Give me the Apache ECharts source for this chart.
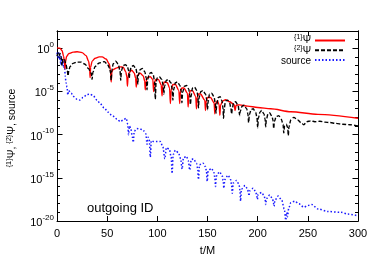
<!DOCTYPE html>
<html><head><meta charset="utf-8">
<script src="https://cdn.jsdelivr.net/npm/echarts@6/dist/echarts.min.js"></script>
<style>html,body{margin:0;padding:0;background:#fff}#c{width:374px;height:261px}</style>
</head><body><div id="c"></div>
<script>
// ---- data (t/M, log10 of amplitude) ----
const seriesNames = ['{1}Ψ', '{2}Ψ', 'source'];
const xTickValues = [0, 50, 100, 150, 200, 250, 300];
const yLabelExponents = [-20, -15, -10, -5, 0];
const annotation = 'outgoing ID';
const xName = 't/M';

const psi1 = [[0,0.05],[3,0.02],[5,-0.25],[6.5,-0.9],[7.5,-1.6],[8,-2.4],[8.5,-1.6],[9.5,-0.95],[12,-0.6],[16,-0.45],
[20,-0.4],[25,-0.5],[29,-0.85],[31.5,-1.5],[32.5,-2.2],[33,-3.4],[33.5,-2.2],[35,-1.5],[38,-1.15],[42,-1.0],
[45,-1.0],[49,-1.25],[52,-1.8],[53.3,-2.5],[54,-3.9],[54.7,-2.7],[56,-2.45],[59,-2.3],[63,-2.15],[66,-2.2],
[68.5,-2.7],[69.6,-3.3],[70.2,-4.4],[70.8,-3.3],[72,-2.8],[74.5,-2.55],[77,-2.85],[78.4,-3.5],[79,-4.5],[79.6,-3.5],
[81,-3.0],[83,-2.9],[86,-3.2],[87.4,-3.8],[88,-4.8],[88.6,-3.9],[90,-3.4],[93,-3.3],[95.5,-3.6],[96.3,-5.0],
[97,-4.0],[98.5,-3.6],[101,-3.6],[103.8,-4.2],[104.7,-5.5],[105.5,-4.3],[107,-3.9],[110,-4.0],[112.2,-4.6],[113,-6.4],
[113.8,-4.8],[115.5,-4.2],[118,-4.2],[121.5,-4.9],[122.3,-6.4],[123,-5.0],[124.5,-4.6],[126.5,-4.6],[130,-5.2],[130.7,-6.8],
[131.4,-5.4],[133,-4.9],[135,-4.9],[138.3,-5.6],[139,-7.0],[139.7,-5.7],[141,-5.3],[143,-5.3],[147.3,-6.0],[148,-7.2],
[148.7,-6.1],[150,-5.7],[153,-5.7],[156.6,-6.3],[157.3,-7.6],[158,-6.4],[159.8,-6.1],[161.6,-6.5],[162.3,-7.75],[163,-6.6],
[165,-6.1],[168,-5.95],[172,-6.2],[176.5,-6.5],[177.5,-7.2],[178.5,-6.6],[182,-6.55],[190,-6.7],[200,-6.85],[213,-7.0],
[233,-7.35],[260,-7.65],[300,-8.1]];

const psi2 = [[0,-0.9],[1,-0.55],[2,-0.9],[3,-0.6],[4,-1.0],[5,-2.0],[6,-1.2],[7.5,-1.3],[9,-1.9],[10.3,-2.6],[11,-3.2],[11.7,-2.6],
[13,-2.1],[16,-1.75],[20,-1.6],[24,-1.6],[28,-1.85],[31,-2.3],[34.3,-2.9],[35,-3.6],[35.7,-2.8],[38,-2.1],[42,-1.7],[47,-1.55],
[50,-1.8],[52.5,-2.3],[53.4,-2.9],[54,-3.7],[54.6,-2.6],[56,-1.8],[58.5,-1.5],[61,-1.8],[62.8,-2.6],[63.5,-3.7],[64.2,-2.6],
[66,-2.0],[68,-1.9],[70,-2.05],[71.4,-2.6],[72,-3.5],[72.6,-2.7],[74,-2.15],[76,-2.0],[78.5,-2.3],[79.9,-3.0],[80.5,-4.2],
[81.1,-3.1],[83,-2.45],[85,-2.35],[87.5,-2.7],[89,-3.5],[89.7,-4.8],[90.4,-3.6],[92,-2.95],[94,-2.8],[96,-3.1],[97.3,-3.9],
[98,-5.9],[98.7,-4.0],[100,-3.4],[102,-3.3],[104.5,-3.6],[105.8,-4.3],[106.5,-5.3],[107.2,-4.4],[109,-3.7],[111,-3.6],
[113.5,-4.0],[114.8,-4.7],[115.5,-6.0],[116.2,-4.8],[118,-4.0],[120,-3.9],[122.5,-4.3],[123.8,-5.0],[124.5,-6.3],[125.2,-5.1],
[127,-4.4],[129,-4.3],[131.3,-4.7],[132.3,-5.4],[133,-6.5],[133.7,-5.5],[135,-4.6],[137,-4.5],[139.5,-4.9],[140.4,-5.6],
[141,-6.9],[141.6,-5.7],[143.5,-5.0],[145.5,-4.9],[148,-5.3],[149.3,-6.0],[150,-7.1],[150.7,-6.1],[152,-5.3],[154,-5.2],
[156.5,-5.6],[157.8,-6.4],[158.5,-7.5],[159.2,-6.5],[160.8,-5.7],[162.5,-5.6],[164.5,-6.1],[165.4,-6.9],[166,-8.1],[166.6,-7.0],
[168,-6.1],[170,-6.0],[172,-6.3],[173.3,-6.9],[174,-7.6],[174.7,-7.0],[176,-6.3],[178,-6.2],[180.5,-6.6],[181.4,-7.2],
[182,-7.8],[182.6,-7.3],[184.5,-6.7],[186.5,-6.6],[189,-7.0],[190.3,-7.6],[191,-8.6],[191.7,-7.7],[193.5,-7.1],[195.5,-7.0],
[198,-7.4],[199.3,-8.0],[200,-9.2],[200.7,-8.1],[202.3,-7.4],[204,-7.2],[206.3,-7.6],[207.4,-8.2],[208,-9.1],[208.6,-8.3],
[210.3,-7.6],[212,-7.5],[214.3,-7.9],[215.4,-8.4],[216,-9.3],[216.6,-8.5],[218.5,-7.9],[221,-7.8],[223.5,-8.2],[225.3,-8.8],
[226,-9.8],[226.8,-9.0],[228.5,-8.8],[230,-9.2],[230.5,-10.1],[231.2,-9.1],[233,-8.3],[236,-8.0],[240,-8.3],[243,-8.6],
[246,-8.85],[249,-8.5],[253,-8.4],[257,-8.5],[262,-8.45],[267,-8.55],[272,-8.6],[278,-8.7],[285,-8.8],[292,-8.85],[300,-9.0]];

const source = [[0,-0.5],[0.8,-1.0],[1.5,-0.4],[2.2,-1.3],[3,-0.8],[3.8,-1.9],[4.5,-1.0],[5.3,-2.0],[6,-1.5],[6.8,-2.3],
[7.5,-2.1],[8.2,-3.2],[9,-4.0],[10,-4.5],[10.8,-5.4],[11.5,-4.9],[14,-5.2],[17,-5.6],[20,-5.9],[23,-6.0],[26,-5.7],[30,-5.35],
[33,-5.3],[36,-5.5],[40,-6.0],[43,-6.4],[47,-6.9],[51,-7.4],[55,-7.8],[60,-8.2],[63,-8.5],[66,-8.3],[69,-8.1],[70.5,-8.8],
[71.3,-10.0],[72.2,-9.0],[73.5,-9.3],[75.2,-10.3],[76,-10.9],[77,-9.6],[79.5,-9.3],[82,-9.35],[85,-9.4],[87,-9.6],[88.5,-9.9],
[89.8,-11.1],[90.8,-10.3],[92,-10.6],[93,-12.6],[94,-10.7],[96,-10.8],[100,-10.8],[103,-10.8],[105.5,-11.4],[107.5,-12.8],
[109,-11.5],[112,-11.7],[113.8,-12.6],[114.7,-14.5],[115.8,-12.3],[118,-11.8],[121,-12.1],[123.3,-12.8],[124.7,-14.0],[126,-12.7],
[129,-12.5],[130.8,-13.0],[132.3,-14.1],[133.8,-12.9],[136,-12.8],[139,-13.3],[140.2,-13.9],[141,-15.2],[142,-13.5],[145.5,-13.3],
[148,-13.7],[149,-14.3],[149.7,-15.4],[150.7,-14.2],[154,-13.9],[156.5,-14.4],[157.3,-15.0],[158,-16.0],[158.8,-14.8],[162,-14.3],
[164.8,-14.8],[165.6,-15.3],[166.3,-16.2],[167.2,-15.2],[170.5,-14.7],[173,-15.2],[174,-15.8],[174.7,-16.8],[175.6,-15.6],[179,-15.3],
[181.5,-15.8],[182.3,-16.4],[183,-17.7],[183.8,-16.3],[187.5,-15.9],[190,-16.3],[190.7,-16.6],[191.3,-17.1],[192.2,-16.5],[195.5,-16.2],
[198,-16.6],[199,-17.0],[199.7,-17.5],[200.5,-16.9],[204,-16.7],[206.5,-17.1],[207.4,-17.5],[208,-18.1],[208.8,-17.4],[212,-17.0],
[214.8,-17.4],[215.6,-17.8],[216.3,-18.3],[217.2,-17.6],[220.5,-17.1],[224,-17.6],[226.5,-18.6],[228,-19.9],[229,-19.0],[229.7,-19.5],
[231,-18.5],[233,-17.9],[237,-17.7],[241,-18.0],[246,-18.4],[250,-18.2],[254,-18.1],[260,-18.6],[270,-18.9],[283,-19.0],
[290,-19.2],[300,-19.4]];

// ---- drawing ----
const FONT = 'Liberation Sans';
const mctx = document.createElement('canvas').getContext('2d');
function measure(t, size) { mctx.font = size + 'px "' + FONT + '"'; return mctx.measureText(t).width; }
function run(parts, x, y, align) {
  const w = parts.map(p => measure(p[0], p[1]));
  const total = w.reduce((a, b) => a + b, 0);
  let cx = align === 'right' ? x - total : (align === 'center' ? x - total / 2 : x);
  return parts.map((p, i) => {
    const el = { type: 'text', x: cx, y: y + p[2], z: 100,
      style: { text: p[0], fontSize: p[1], fontFamily: FONT, fill: '#000', align: 'left', verticalAlign: 'middle' } };
    cx += w[i];
    return el;
  });
}
function supParts(name, size) {
  const m = name.match(/^(\{\d\})(.*)$/);
  if (m) return [[m[1], size * 0.7, -size * 0.32], [m[2], size, 0]];
  return [[name, size, 0]];
}

const chart = echarts.init(document.getElementById('c'));
function yAxisDef(pos, interval, len, labels) {
  return {
    type: 'value', position: pos, min: -20, max: 2, interval: interval,
    axisLine: { show: true, lineStyle: { color: '#000', width: 1 } },
    axisTick: { show: true, inside: true, length: len, lineStyle: { color: '#000', width: 1 } },
    splitLine: { show: false },
    axisLabel: labels ? {
      show: true, margin: 3, color: '#000', fontFamily: FONT,
      formatter: v => { const r = Math.round(v); return (Math.abs(v - r) < 1e-6 && yLabelExponents.includes(r)) ? '{b|10}{s|' + r + '}' : ''; },
      rich: { b: { fontSize: 11, fontFamily: FONT, color: '#000', padding: [4, 0, 0, 0], verticalAlign: 'bottom' },
              s: { fontSize: 8, fontFamily: FONT, color: '#000', verticalAlign: 'top' } }
    } : { show: false }
  };
}
function xAxisDef(pos, labels) {
  return {
    type: 'value', position: pos, min: 0, max: 300, interval: 50,
    axisLine: { show: true, onZero: false, lineStyle: { color: '#000', width: 1 } },
    axisTick: { show: true, inside: true, length: 5, lineStyle: { color: '#000' } },
    splitLine: { show: false },
    axisLabel: labels ? { show: true, margin: 7, color: '#000', fontSize: 11, fontFamily: FONT,
      formatter: v => xTickValues.includes(v) ? String(v) : '' } : { show: false },
    name: labels ? xName : '', nameLocation: 'middle', nameGap: 24,
    nameTextStyle: { color: '#000', fontSize: 11, fontFamily: FONT }
  };
}

const toData = arr => arr.map(p => [p[0], p[1]]);
const yNameGroup = { type: 'group', x: 12, y: 128, rotation: Math.PI / 2, z: 100,
  children: run([].concat(supParts(seriesNames[0] + ', ', 10.5), supParts(seriesNames[1] + ', ', 10.5), [[seriesNames[2], 10.5, 0]]), 0, 0, 'center') };
const legendRows = [40.5, 51, 61.5];
let legendTexts = [];
seriesNames.forEach((n, i) => { legendTexts = legendTexts.concat(run(supParts(n, 10), 311, legendRows[i], 'right')); });

chart.setOption({
  animation: false,
  backgroundColor: '#fff',
  grid: { left: 57, right: 16, top: 31, bottom: 34, show: false },
  xAxis: [xAxisDef('bottom', true), xAxisDef('top', false)],
  yAxis: [yAxisDef('left', 1, 3, true), yAxisDef('left', 5, 5.5, false), yAxisDef('right', 1, 3, false), yAxisDef('right', 5, 5.5, false)],
  legend: {
    orient: 'vertical', right: 28, top: 36.5, itemWidth: 30, itemHeight: 8, itemGap: 2.5, padding: 0,
    align: 'right', formatter: () => '', textStyle: { fontSize: 1 },
    itemStyle: { opacity: 0 },
    data: seriesNames
  },
  series: [
    { name: seriesNames[0], type: 'line', data: toData(psi1), showSymbol: false, symbol: 'none', smooth: 0.3, smoothMonotone: 'x',
      lineStyle: { color: '#ff0000', width: 1.4, type: 'solid' }, itemStyle: { color: '#ff0000' }, z: 3 },
    { name: seriesNames[1], type: 'line', data: toData(psi2), showSymbol: false, symbol: 'none', smooth: 0.3, smoothMonotone: 'x',
      lineStyle: { color: '#000000', width: 1.4, type: [4, 2] }, itemStyle: { color: '#000' }, z: 4 },
    { name: seriesNames[2], type: 'line', data: toData(source), showSymbol: false, symbol: 'none', smooth: 0.3, smoothMonotone: 'x',
      lineStyle: { color: '#1a1aff', width: 1.5, type: [1.5, 2] }, itemStyle: { color: '#1a1aff' }, z: 2 }
  ],
  graphic: [
    yNameGroup,
    { type: 'text', x: 87, y: 208, z: 100, style: { text: annotation, fontSize: 13, fontFamily: FONT, fill: '#000', verticalAlign: 'middle' } }
  ].concat(legendTexts)
});
</script>
</body></html>
